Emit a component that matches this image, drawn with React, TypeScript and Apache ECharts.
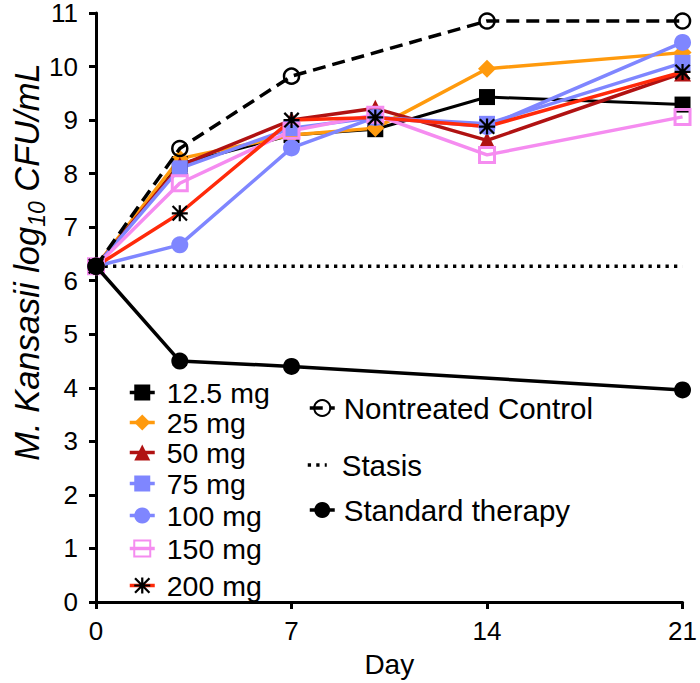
import React, { useEffect, useRef } from "react";
import * as echarts from "echarts";

const days = [0, 3, 7, 10, 14, 21];
const dose12_5 = [6.27, 8.18, 8.72, 8.83, 9.43, 9.29];
const dose25 = [6.27, 8.28, 8.72, 8.85, 9.96, 10.26];
const dose50 = [6.27, 8.15, 9.0, 9.22, 8.62, 9.88];
const dose75 = [6.27, 8.1, 8.85, 9.05, 8.93, 10.07];
const dose100 = [6.27, 6.67, 8.48, 9.05, 8.88, 10.45];
const dose150 = [6.27, 7.82, 8.8, 9.1, 8.35, 9.06];
const dose200 = [6.27, 7.26, 9.0, 9.05, 8.88, 9.9];
const controlDays = [0, 3, 7, 14, 21];
const control = [6.27, 8.47, 9.82, 10.85, 10.85];
const stasisDays = [0, 21];
const stasis = [6.27, 6.27];
const stdDays = [0, 3, 7, 21];
const standard = [6.27, 4.5, 4.4, 3.96];

const FONT = "'Liberation Sans', Arial, Helvetica, sans-serif";
const STAR =
  "path://M8.6 0H11.4V20H8.6Z M0 8.6H20V11.4H0Z M2 0L20 18L18 20L0 2Z M18 0L20 2L2 20L0 18Z";

const pair = (xs: number[], ys: number[]) => xs.map((x, i) => [x, ys[i]]);

export default function App() {
  const ref = useRef<HTMLDivElement>(null);
  useEffect(() => {
    if (!ref.current) return;
    document.body.style.margin = "0";
    const chart = echarts.init(ref.current, undefined, { renderer: "svg" });

    const treat = (
      name: string,
      ys: number[],
      color: string,
      symbol: string,
      size: number,
      itemStyle?: any,
      lineW = 3.5
    ) => ({
      name,
      type: "line",
      data: pair(days, ys),
      symbol,
      symbolSize: size,
      lineStyle: { color, width: lineW },
      itemStyle: itemStyle || { color },
      z: 3,
    });

    const series: any[] = [
      treat("12.5 mg", dose12_5, "#000000", "rect", 16, undefined, 3),
      treat("25 mg", dose25, "#FF9A0D", "diamond", 18),
      treat("50 mg", dose50, "#B01212", "triangle", 17),
      treat("75 mg", dose75, "#7F86FF", "rect", 16),
      treat("100 mg", dose100, "#7F86FF", "circle", 17),
      treat("150 mg", dose150, "#F58CF0", "rect", 15, {
        color: "rgba(255,255,255,0)",
        borderColor: "#F58CF0",
        borderWidth: 3,
      }),
      treat("200 mg", dose200, "#FF2A0A", STAR, 16, { color: "#000" }),
      {
        name: "Nontreated Control",
        type: "line",
        data: pair(controlDays, control),
        symbol: "circle",
        symbolSize: 15,
        lineStyle: { color: "#000", width: 3.5, type: [13, 7] },
        itemStyle: { color: "rgba(255,255,255,0)", borderColor: "#000", borderWidth: 2.5 },
        z: 4,
      },
      {
        name: "Stasis",
        type: "line",
        data: pair(stasisDays, stasis),
        symbol: "none",
        lineStyle: { color: "#000", width: 3.3, type: [3.3, 5.2] },
        itemStyle: { color: "#000" },
        z: 2,
      },
      {
        name: "Standard therapy",
        type: "line",
        data: pair(stdDays, standard),
        symbol: "circle",
        symbolSize: 17,
        lineStyle: { color: "#000", width: 3.5 },
        itemStyle: { color: "#000" },
        z: 5,
      },
    ];

    const leg = (
      name: string,
      left: number,
      cy: number,
      itemWidth: number,
      pad: number,
      fontSize: number,
      lh: number,
      extra?: any
    ) => ({
      data: [extra ? { name, ...extra } : name],
      left,
      top: cy - lh / 2,
      orient: "vertical",
      itemWidth,
      itemHeight: 20,
      padding: 0,
      selectedMode: false,
      lineStyle: { width: 3.5 },
      textStyle: {
        fontSize,
        lineHeight: lh,
        fontFamily: FONT,
        color: "#000",
        padding: [0, 0, 0, pad],
      },
    });

    const legends = [
      leg("12.5 mg", 128, 390, 25, 7, 28.5, 24),
      leg("25 mg", 128, 420, 25, 7, 28.5, 24),
      leg("50 mg", 128, 450, 25, 7, 28.5, 24),
      leg("75 mg", 128, 481, 25, 7, 28.5, 24),
      leg("100 mg", 128, 513, 25, 7, 28.5, 24),
      leg("150 mg", 128, 546, 25, 7, 28.5, 24),
      leg("200 mg", 128, 583, 25, 7, 28.5, 24),
      leg("Nontreated Control", 308, 408, 25, 4, 29.5, 30),
      leg("Stasis", 306, 465, 19, 10, 29.5, 30, {
        itemStyle: { color: "rgba(0,0,0,0)", borderColor: "rgba(0,0,0,0)", borderWidth: 0 },
      }),
      leg("Standard therapy", 308, 510, 25, 4, 29.5, 30),
    ];

    chart.setOption({
      animation: false,
      backgroundColor: "#fff",
      textStyle: { fontFamily: FONT },
      grid: { left: 96, right: 11, top: 12, bottom: 80, containLabel: false },
      legend: legends,
      xAxis: {
        type: "value",
        min: 0,
        max: 21,
        interval: 7,
        name: "Day",
        nameLocation: "middle",
        nameGap: 48,
        nameTextStyle: { fontSize: 28, color: "#000", fontFamily: FONT },
        axisLine: { lineStyle: { color: "#000", width: 3 } },
        axisTick: { length: 7, lineStyle: { color: "#000", width: 3 } },
        axisLabel: { fontSize: 26, color: "#000", margin: 16, fontFamily: FONT },
        splitLine: { show: false },
      },
      yAxis: {
        type: "value",
        min: 0,
        max: 11,
        interval: 1,
        axisLine: { lineStyle: { color: "#000", width: 3 } },
        axisTick: { length: 7, lineStyle: { color: "#000", width: 3 } },
        axisLabel: { fontSize: 26, color: "#000", margin: 18, fontFamily: FONT },
        splitLine: { show: false },
      },
      graphic: [
        {
          type: "text",
          x: 27,
          y: 262,
          rotation: Math.PI / 2,
          style: {
            text: "{i|M. Kansasii log}{s|10}{i| CFU/mL}",
            align: "center",
            verticalAlign: "middle",
            rich: {
              i: { fontSize: 34.5, fontStyle: "italic", fontFamily: FONT, lineHeight: 42, fill: "#000" },
              s: {
                fontSize: 23,
                fontStyle: "italic",
                fontFamily: FONT,
                lineHeight: 24,
                verticalAlign: "bottom",
                fill: "#000",
              },
            },
          },
        },
      ],
      series,
    });
    return () => chart.dispose();
  }, []);
  return (
    <div
      ref={ref}
      style={{ position: "fixed", left: 0, top: 0, width: 700, height: 683 }}
    />
  );
}
